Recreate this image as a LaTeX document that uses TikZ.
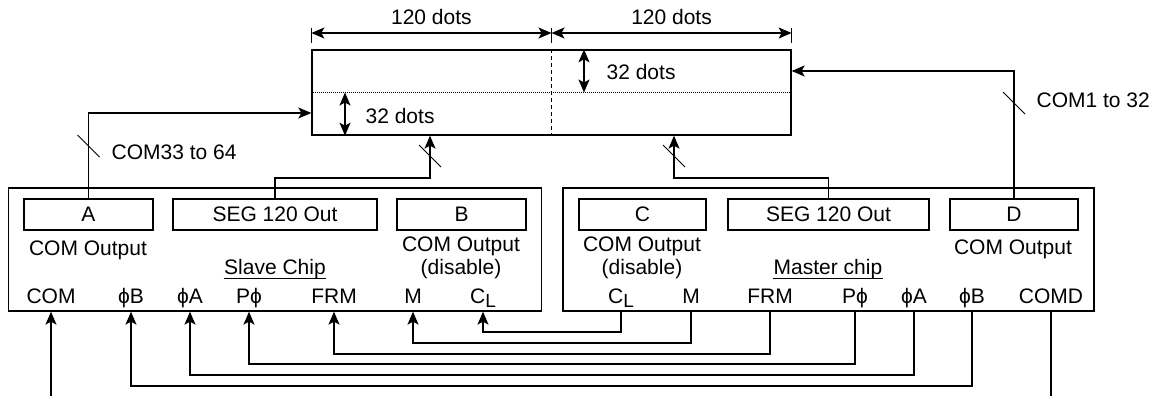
\documentclass[tikz,border=0pt]{standalone}
\usepackage{fontspec}
\setmainfont{Liberation Sans}
\usetikzlibrary{arrows.meta}
\begin{document}
\begin{tikzpicture}[x=1pt,y=-1pt, line width=1.3pt,
  every node/.style={font=\fontsize{21}{23}\selectfont, inner sep=0pt},
  box/.style={draw, minimum height=31pt, inner sep=0pt},
  chip/.style={draw, minimum height=123pt, inner sep=0pt},
  arr/.style={-{Stealth[length=13pt,width=11pt,inset=3pt]}},
  darr/.style={{Stealth[length=13pt,width=11pt,inset=3pt]}-{Stealth[length=13pt,width=11pt,inset=3pt]}},
  lbl/.style={anchor=base},
  slashmark/.style={line width=1pt}]
\useasboundingbox (0,0) rectangle (1163,396);

% display panel
\node[draw, minimum width=479pt, minimum height=85pt] (disp) at (551.5,92.5) {};
\draw[line width=1pt, dash pattern=on 4pt off 3pt] (disp.north) -- (disp.south);
\draw[line width=0.8pt, dash pattern=on 1pt off 1pt] (disp.west) -- (disp.east);

% width dimensions
\coordinate (tk1) at (0,28); \coordinate (tk2) at (0,43); \coordinate (dimy) at (0,33);
\draw (disp.north west |- tk1) -- (disp.north west |- tk2);
\draw (disp.north |- tk1) -- (disp.north |- tk2);
\draw (disp.north east |- tk1) -- (disp.north east |- tk2);
\draw[darr] (disp.north west |- dimy) -- (disp.north |- dimy) node[midway, above=8pt] (w1) {120 dots};
\draw[darr] (disp.north |- dimy) -- (disp.north east |- dimy) node[midway, above=8pt] (w2) {120 dots};

% height dimensions
\coordinate (v1) at (345,0); \coordinate (v2) at (584,0);
\draw[darr] (v1 |- disp.west) -- (v1 |- disp.south);
\draw[darr] (v2 |- disp.north) -- (v2 |- disp.east);
\node[anchor=base west] (h1) at (365,123) {32 dots};
\node[anchor=base west] (h2) at (606,80) {32 dots};

% chips
\node[chip, minimum width=533pt] (slave) at (275,249.5) {};
\node[chip, minimum width=531pt] (master) at (828.5,249.5) {};
\node[box, minimum width=129pt] (A) at (88.5,214.5) {A};
\node[box, minimum width=204pt] (seg1) at (275,214.5) {SEG 120 Out};
\node[box, minimum width=129pt] (B) at (461.5,214.5) {B};
\node[box, minimum width=127pt] (C) at (642.5,214.5) {C};
\node[box, minimum width=201pt] (seg2) at (828.5,214.5) {SEG 120 Out};
\node[box, minimum width=128pt] (D) at (1014,214.5) {D};

\node[lbl] (aout) at (88,255) {COM Output};
\node[lbl] (bout1) at (461,251) {COM Output};
\node[lbl] (bout2) at (461,274) {(disable)};
\node[lbl] (cout1) at (642,251) {COM Output};
\node[lbl] (cout2) at (642,274) {(disable)};
\node[lbl] (dout) at (1013,254) {COM Output};
\node[lbl] (slv) at (275,274) {Slave Chip};
\draw[line width=1pt] ([yshift=-4pt]slv.base west) -- ([yshift=-4pt]slv.base east);
\node[lbl] (mst) at (828,274) {Master chip};
\draw[line width=1pt] ([yshift=-4pt]mst.base west) -- ([yshift=-4pt]mst.base east);

% pin labels
\newcommand{\CLpin}{C\raisebox{-4pt}{\fontsize{19}{19}\selectfont L}}
\node[lbl] (sCOM) at (51,303) {COM};
\node[lbl] (sPB) at (131,303) {ϕB};
\node[lbl] (sPA) at (190,303) {ϕA};
\node[lbl] (sPP) at (249,303) {Pϕ};
\node[lbl] (sFRM) at (334,303) {FRM};
\node[lbl] (sM) at (413,303) {M};
\node[lbl] (sCL) at (483,303) {\CLpin};
\node[lbl] (mCL) at (621,303) {\CLpin};
\node[lbl] (mM) at (691,303) {M};
\node[lbl] (mFRM) at (770,303) {FRM};
\node[lbl] (mPP) at (855,303) {Pϕ};
\node[lbl] (mPA) at (914,303) {ϕA};
\node[lbl] (mPB) at (972,303) {ϕB};
\node[lbl] (mCOMD) at (1051,303) {COMD};

% bottom wires
\coordinate (bot) at (0,396);
\coordinate (lCL) at (0,332); \coordinate (lM) at (0,343); \coordinate (lFRM) at (0,354);
\coordinate (lPP) at (0,364); \coordinate (lPA) at (0,375); \coordinate (lPB) at (0,386);
\draw[arr] (sCOM |- bot) -- (sCOM |- slave.south);
\draw (mCOMD |- master.south) -- (mCOMD |- bot);
\draw[arr] (mCL |- master.south) -- (mCL |- lCL) -- (sCL |- lCL) -- (sCL |- slave.south);
\draw[arr] (mM |- master.south) -- (mM |- lM) -- (sM |- lM) -- (sM |- slave.south);
\draw[arr] (mFRM |- master.south) -- (mFRM |- lFRM) -- (sFRM |- lFRM) -- (sFRM |- slave.south);
\draw[arr] (mPP |- master.south) -- (mPP |- lPP) -- (sPP |- lPP) -- (sPP |- slave.south);
\draw[arr] (mPA |- master.south) -- (mPA |- lPA) -- (sPA |- lPA) -- (sPA |- slave.south);
\draw[arr] (mPB |- master.south) -- (mPB |- lPB) -- (sPB |- lPB) -- (sPB |- slave.south);

% top connectors
\coordinate (y113) at (0,113); \coordinate (y178) at (0,178); \coordinate (y71) at (0,71);
\coordinate (x430) at (430,0); \coordinate (x674) at (674,0);
\draw[arr] (A.north) -- (A.north |- y113) -- (disp.west |- y113);
\draw[arr] (seg1.north) -- (seg1.north |- y178) -- (x430 |- y178) -- (x430 |- disp.south);
\draw[arr] (seg2.north) -- (seg2.north |- y178) -- (x674 |- y178) -- (x674 |- disp.south);
\draw[arr] (D.north) -- (D.north |- y71) -- (disp.east |- y71);

% bus slashes
\coordinate (s1) at (88.5,146); \coordinate (s2) at (430,156);
\coordinate (s3) at (674,156); \coordinate (s4) at (1014,103);
\foreach \s in {s1,s2,s3,s4}
  \draw[slashmark] (\s) ++(-11,-11) -- ++(22,22);
\node[anchor=base west] (com33) at (111,159) {COM33 to 64};
\node[anchor=base west] (com1) at (1036,107) {COM1 to 32};
\end{tikzpicture}
\end{document}
